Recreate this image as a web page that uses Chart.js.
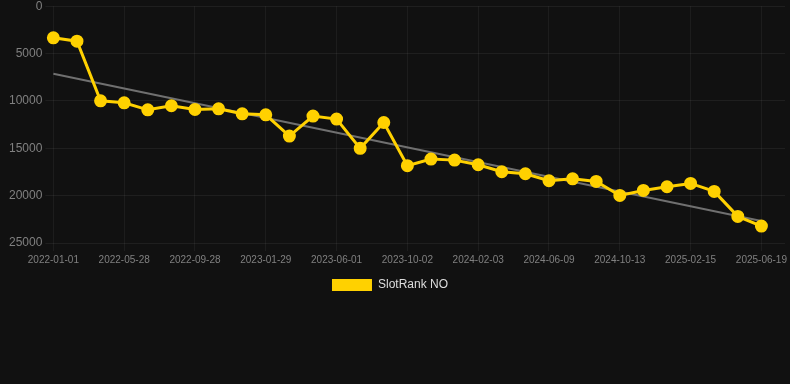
<!DOCTYPE html>
<html>
<head>
<meta charset="utf-8">
<script src="https://cdn.jsdelivr.net/npm/chart.js@4/dist/chart.umd.min.js"></script>
<style>
  html, body { margin: 0; padding: 0; background: #111111; overflow: hidden; }
  #wrap { width: 793px; height: 305px; position: relative; margin-top: -4px; }
</style>
</head>
<body>
<div id="wrap"><canvas id="c"></canvas></div>
<script>
const dates = [
  '2022-01-01','2022-02-19','2022-04-09','2022-05-28','2022-07-08','2022-08-18',
  '2022-09-28','2022-11-08','2022-12-19','2023-01-29','2023-03-11','2023-04-21',
  '2023-06-01','2023-07-12','2023-08-22','2023-10-02','2023-11-12','2023-12-23',
  '2024-02-03','2024-03-16','2024-04-27','2024-06-09','2024-07-21','2024-09-01',
  '2024-10-13','2024-11-24','2025-01-04','2025-02-15','2025-03-29','2025-05-09',
  '2025-06-19','2025-07-31'
];
const rankValues = [
  3340, 3690, 9990, 10200, 10940, 10510, 10900, 10830, 11360, 11470, 13710, 11600,
  11920, 15010, 12280, 16840, 16140, 16250, 16740, 17480, 17690, 18430, 18220, 18500,
  19980, 19450, 19060, 18710, 19550, 22190, 23210, null
];
const trendValues = [
  7140, null, null, null, null, null, null, null, null, null, null, null,
  null, null, null, null, null, null, null, null, null, null, null, null,
  null, null, null, null, null, null, 22680, null
];
const yTicks = [0, 5000, 10000, 15000, 20000, 25000];
const shownTickEvery = 3;

const legendShift = {
  id: 'legendShift',
  afterLayout(chart) {
    if (chart.legend) { chart.legend.left -= 7; chart.legend.right -= 7; }
  }
};

new Chart(document.getElementById('c'), {
  type: 'line',
  data: {
    labels: dates,
    datasets: [
      {
        label: 'SlotRank NO',
        data: rankValues,
        borderColor: '#ffd100',
        backgroundColor: '#ffd100',
        borderWidth: 3,
        pointRadius: 5,
        pointHoverRadius: 5,
        pointBackgroundColor: '#ffd100',
        pointBorderColor: '#ffd100',
        tension: 0,
        order: 1
      },
      {
        label: 'trend',
        data: trendValues,
        borderColor: '#707070',
        borderWidth: 2,
        pointRadius: 0,
        spanGaps: true,
        order: 2
      }
    ]
  },
  plugins: [legendShift],
  options: {
    responsive: true,
    maintainAspectRatio: false,
    animation: false,
    layout: { padding: { left: 6, right: 5, top: 0, bottom: 0 } },
    plugins: {
      tooltip: { enabled: false },
      legend: {
        position: 'bottom',
        labels: {
          color: '#dddddd',
          font: { family: 'Liberation Sans, Arial, sans-serif', size: 12 },
          boxWidth: 40,
          boxHeight: 12,
          filter: item => item.text === 'SlotRank NO',
          generateLabels: chart => {
            const items = Chart.defaults.plugins.legend.labels.generateLabels(chart);
            items.forEach(it => { it.lineWidth = 0; it.strokeStyle = 'rgba(0,0,0,0)'; });
            return items;
          }
        }
      }
    },
    scales: {
      x: {
        offset: false,
        afterBuildTicks: axis => {
          axis.ticks = axis.ticks.filter(t => t.value % shownTickEvery === 0 && rankValues[t.value] !== null);
        },
        ticks: {
          autoSkip: false,
          maxRotation: 0,
          color: '#808080',
          font: { family: 'Liberation Sans, Arial, sans-serif', size: 10 }
        },
        grid: { color: 'rgba(255,255,255,0.05)' },
        border: { display: false }
      },
      y: {
        reverse: true,
        min: 0,
        max: 25000,
        afterBuildTicks: axis => { axis.ticks = yTicks.map(v => ({ value: v })); },
        ticks: {
          color: '#808080',
          font: { family: 'Liberation Sans, Arial, sans-serif', size: 12 },
          callback: v => String(v)
        },
        grid: { color: 'rgba(255,255,255,0.06)' },
        border: { display: false }
      }
    }
  }
});
</script>
</body>
</html>
